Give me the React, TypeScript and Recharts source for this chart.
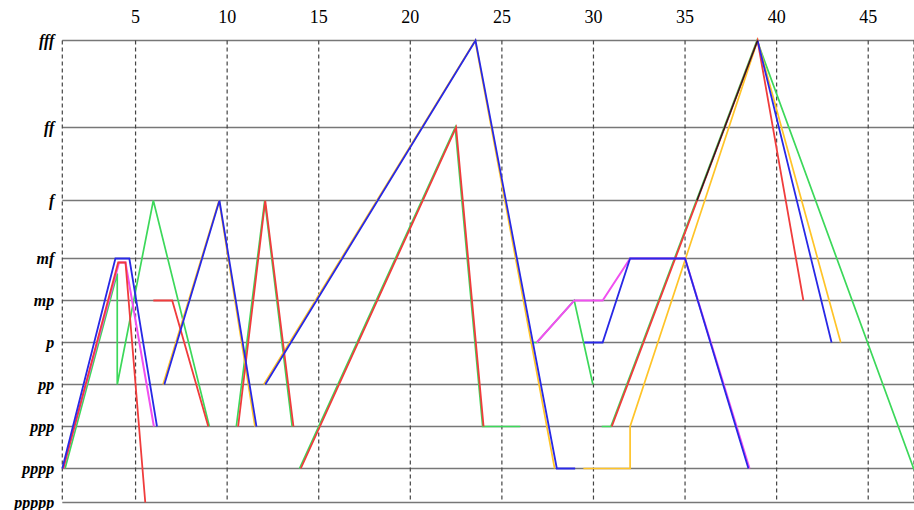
import { CartesianGrid, Line, LineChart, XAxis, YAxis } from 'recharts'

// dynamic levels, bottom to top, and where each one sits on the (uneven) vertical scale
const levelNames = ['ppppp', 'pppp', 'ppp', 'pp', 'p', 'mp', 'mf', 'f', 'ff', 'fff']
const levelValues = [0, 34, 76, 118, 160, 202, 244, 302, 375, 462]
const measureTicks = [5, 10, 15, 20, 25, 30, 35, 40, 45]

// [measure, dynamic] ; null = break in the line
type Pt = [number, string | number] | null

const green: Pt[] = [
  [1.15, 'pppp'], [4.0, 229], [4.0, 'pp'], [5.97, 'f'], [9.03, 'ppp'], null,
  [10.5, 'ppp'], [12.05, 'f'], [13.55, 'ppp'], null,
  [13.95, 'pppp'], [22.45, 'ff'], [23.95, 'ppp'], [26.0, 'ppp'], null,
  [26.55, 'p'], [26.9, 'p'], [28.95, 'mp'], [29.97, 'pp'], null,
  [30.45, 'ppp'], [30.95, 'ppp'], [38.93, 'fff'], [47.5, 33],
]

const yellow: Pt[] = [
  [6.5, 'pp'], [9.56, 'f'], [11.52, 'ppp'], null,
  [12.0, 'pp'], [23.54, 'fff'], [27.88, 'pppp'], null,
  [29.45, 'pppp'], [32.0, 'pppp'], [32.0, 'ppp'], [38.96, 'fff'], [43.5, 'p'],
]

const magenta: Pt[] = [
  [1.05, 'pppp'], [4.1, 240], [4.45, 240], [6.0, 'ppp'], null,
  [26.9, 'p'], [28.95, 'mp'], [30.5, 'mp'], [32.0, 'mf'], [35.0, 'mf'], [38.52, 'pppp'],
]

const red: Pt[] = [
  [1.05, 'pppp'], [4.05, 240], [4.45, 240], [5.53, 'ppppp'], null,
  [5.97, 'mp'], [7.0, 'mp'], [8.97, 'ppp'], null,
  [10.6, 'ppp'], [12.08, 'f'], [13.62, 'ppp'], null,
  [14.02, 'pppp'], [22.5, 'ff'], [24.0, 'ppp'], null,
  [31.0, 'ppp'], [38.96, 'fff'], [41.46, 'mp'],
]

const blue: Pt[] = [
  [1.0, 'pppp'], [3.9, 'mf'], [4.66, 'mf'], [6.17, 'ppp'], null,
  [6.57, 'pp'], [9.58, 'f'], [11.6, 'ppp'], null,
  [12.08, 'pp'], [23.56, 'fff'], [28.0, 'pppp'], [29.0, 'pppp'], null,
  [29.5, 'p'], [30.5, 'p'], [32.0, 'mf'], [35.0, 'mf'], [38.46, 'pppp'], null,
  [38.96, 'fff'], [43.0, 'p'],
]

const black: Pt[] = [[35.65, 'f'], [38.96, 'fff']]

function toRows(pts: Pt[]) {
  let lastX = 1
  return pts.map(p => {
    if (!p) return { x: lastX, y: null }
    lastX = p[0]
    const y = typeof p[1] === 'string' ? levelValues[levelNames.indexOf(p[1])] : p[1]
    return { x: p[0], y }
  })
}

const series = [
  { name: 'green', pts: green, color: '#3cd85a', width: 1.7 },
  { name: 'yellow', pts: yellow, color: '#ffc428', width: 1.7 },
  { name: 'magenta', pts: magenta, color: '#f050f0', width: 2 },
  { name: 'red', pts: red, color: '#f03c3c', width: 1.8 },
  { name: 'blue', pts: blue, color: '#2828e6', width: 1.8 },
  { name: 'black', pts: black, color: '#202020', width: 1.4 },
]

export default function App() {
  return (
    <div style={{ position: 'absolute', left: 0, top: 0 }}>
      <LineChart
        width={914}
        height={510}
        margin={{ top: 0, right: 0, bottom: 7.5, left: 0 }}
      >
        <CartesianGrid vertical={false} stroke="#777" strokeWidth={1.5} />
        <CartesianGrid horizontal={false} stroke="#444" strokeDasharray="4 3" strokeWidth={1.2} />
        <XAxis
          type="number"
          dataKey="x"
          orientation="top"
          domain={[1, 47.5]}
          ticks={measureTicks}
          interval={0}
          height={40.5}
          axisLine={false}
          tickLine={false}
          tickMargin={12}
          tick={{ fontFamily: 'Liberation Serif', fontSize: 18, fill: '#000' }}
        />
        <YAxis
          type="number"
          domain={[0, 462]}
          ticks={levelValues}
          interval={0}
          width={62.3}
          axisLine={false}
          tickLine={false}
          tickFormatter={v => levelNames[levelValues.indexOf(v)]}
          tick={{
            fontFamily: 'Liberation Serif',
            fontSize: 16,
            fontStyle: 'italic',
            fontWeight: 'bold',
            fill: '#000',
          }}
        />
        {series.map(s => (
          <Line
            key={s.name}
            data={toRows(s.pts)}
            dataKey="y"
            type="linear"
            stroke={s.color}
            strokeWidth={s.width}
            dot={false}
            activeDot={false}
            isAnimationActive={false}
          />
        ))}
      </LineChart>
    </div>
  )
}
